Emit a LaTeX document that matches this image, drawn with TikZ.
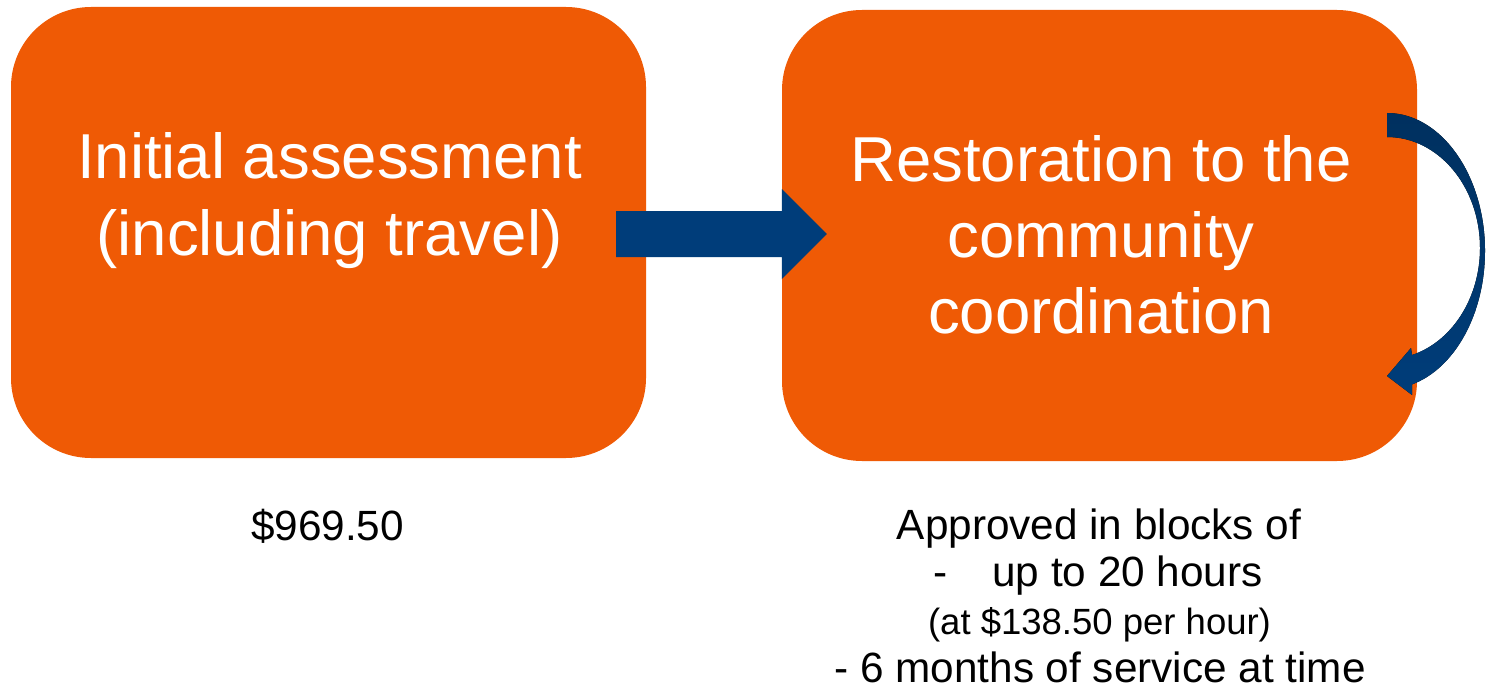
\documentclass[tikz,border=0pt]{standalone}
\usepackage{fontspec}
\setmainfont{Liberation Sans}
\usetikzlibrary{calc}
\definecolor{boxorange}{HTML}{EF5A05}
\definecolor{arrownavy}{HTML}{003D7A}
\definecolor{arrowdark}{HTML}{00305F}

\begin{document}
\begin{tikzpicture}[x=1pt,y=-1pt,
  stage/.style={fill=boxorange, rounded corners=80pt, minimum width=635pt,
                minimum height=451pt, inner sep=0pt},
  boxtext/.style={text=white, font=\fontsize{63.5}{76}\selectfont, anchor=base, inner sep=0pt},
  note/.style={text=black, font=\fontsize{42.3}{48}\selectfont, anchor=base, inner sep=0pt},
  smallnote/.style={text=black, font=\fontsize{36.5}{42}\selectfont, anchor=base, inner sep=0pt}]
\useasboundingbox (0,0) rectangle (1487,690);

% the two stages
\node[stage] (b1) at (328.5,232.5) {};
\node[stage] (b2) at (1099.5,235.5) {};

\node[boxtext] (t1a) at (329.5,178) {Initial assessment};
\node[boxtext] (t1b) at (329.5,255) {(including travel)};
\node[boxtext] (t2a) at (1101,181) {Restoration to the};
\node[boxtext] (t2b) at (1101,257) {community};
\node[boxtext] (t2c) at (1101,333) {coordination};

% block arrow from the first stage to the second
\coordinate (s) at ($(b1.east)+(-30,1.5)$);
\coordinate (h) at (s -| b2.west);
\fill[arrownavy] ($(s)+(0,-23)$) -- ($(h)+(0,-23)$) -- ($(h)+(0,-45)$)
  -- ($(h)+(45,0)$) -- ($(h)+(0,45)$) -- ($(h)+(0,23)$) -- ($(s)+(0,23)$) -- cycle;

% curved arrow looping back into the second stage
\coordinate (c0) at (1387,113);
\coordinate (c1) at (1387,137);
\fill[top color=arrowdark, bottom color=arrownavy]
  (c0) .. controls (1441,113) and (1485,175) .. (1485,251)
       .. controls (1485,313.6) and (1455,368.4) .. (1412,384.4)
  -- (1412,395) -- (1387,376) -- (1411,348) -- (1412,355)
       .. controls (1452.2,341.6) and (1480,297.8) .. (1480,248)
       .. controls (1480,186.7) and (1438.4,137) .. (c1)
  -- cycle;

% notes under the stages
\node[note] (cost) at (327.5,540) {\$969.50};
\node[note] (n1) at (1099,539) {Approved in blocks of};
\node[note] (n2) at (1098,586) {-\hspace{45pt}up to 20 hours};
\node[smallnote] (n3) at (1099.5,634) {(at \$138.50 per hour)};
\node[note] (n4) at (1100,682) {- 6 months of service at time};
\end{tikzpicture}
\end{document}
